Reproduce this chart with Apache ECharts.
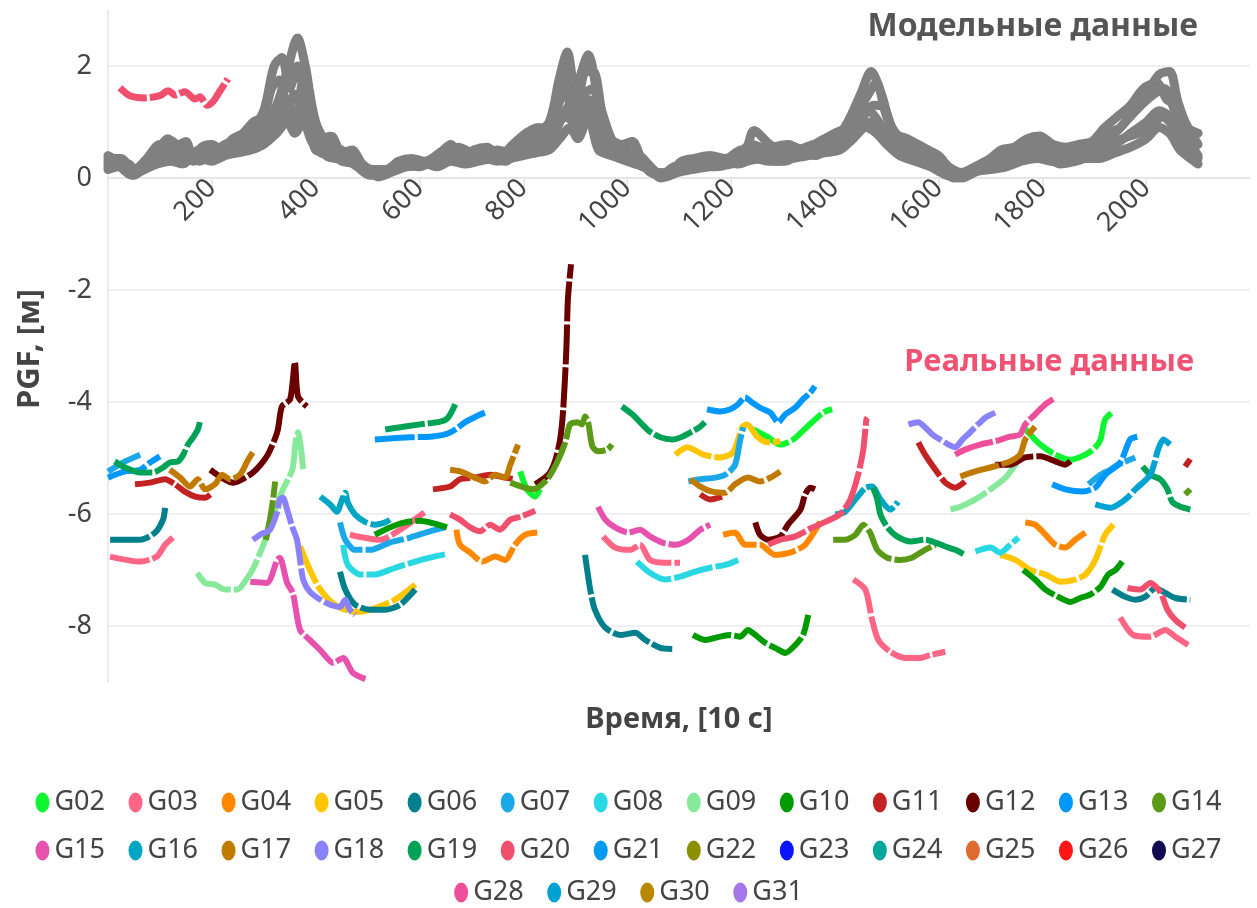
<!DOCTYPE html>
<html><head><meta charset="utf-8">
<script src="https://cdn.jsdelivr.net/npm/echarts@6/dist/echarts.min.js"></script>
<style>html,body{margin:0;padding:0;background:#fff}#c{width:1257px;height:908px}</style>
</head><body><div id="c"></div>
<script>
// ---------- Model data (gray) ----------
const model1 = [[0,0.35],[25,0.35],[50,0.1],[75,0.3],[100,0.5],[125,0.6],[150,0.45],[175,0.4],[200,0.5],[225,0.55],[250,0.65],[275,0.75],[300,0.9],[325,1.3],[345,1.9],[365,2.5],[380,2.0],[400,1.0],[425,0.6],[450,0.5],[475,0.3],[500,0.08],[525,0.1],[550,0.2],[575,0.3],[600,0.25],[625,0.35],[650,0.5],[675,0.45],[700,0.4],[725,0.5],[750,0.45],[775,0.5],[800,0.7],[825,0.8],[850,1.0],[870,1.8],[885,2.25],[900,1.6],[925,2.2],[945,1.4],[975,0.6],[1000,0.5],[1025,0.4],[1050,0.15],[1075,0.02],[1100,0.15],[1125,0.3],[1150,0.3],[1175,0.3],[1200,0.35],[1225,0.4],[1245,0.85],[1275,0.6],[1300,0.5],[1325,0.45],[1350,0.55],[1375,0.65],[1400,0.7],[1425,1.0],[1450,1.5],[1470,1.9],[1490,1.5],[1510,0.9],[1540,0.6],[1575,0.4],[1600,0.3],[1625,0.05],[1650,0.05],[1675,0.15],[1700,0.3],[1725,0.45],[1750,0.5],[1775,0.6],[1800,0.45],[1825,0.4],[1850,0.45],[1875,0.5],[1900,0.6],[1925,0.8],[1950,0.9],[1975,1.2],[2000,1.5],[2025,1.85],[2045,1.9],[2060,1.4],[2075,1.0],[2100,0.6]];
const model2 = [[0,0.25],[25,0.3],[50,0.15],[75,0.35],[100,0.6],[125,0.5],[150,0.35],[175,0.5],[200,0.45],[225,0.6],[250,0.7],[275,0.85],[300,1.2],[320,2.0],[335,2.15],[350,1.6],[365,2.0],[385,1.1],[410,0.6],[435,0.55],[460,0.4],[490,0.15],[520,0.05],[545,0.15],[570,0.25],[600,0.2],[625,0.3],[650,0.4],[675,0.55],[700,0.45],[725,0.4],[750,0.5],[775,0.45],[800,0.6],[825,0.75],[850,0.9],[875,1.5],[890,1.9],[905,1.4],[920,1.9],[935,1.9],[955,1.0],[980,0.55],[1010,0.45],[1040,0.25],[1065,0.05],[1090,0.2],[1120,0.25],[1150,0.35],[1180,0.3],[1210,0.4],[1240,0.6],[1270,0.5],[1300,0.4],[1330,0.5],[1360,0.6],[1390,0.65],[1420,0.85],[1445,1.2],[1465,1.5],[1480,1.7],[1500,1.1],[1525,0.7],[1555,0.5],[1585,0.35],[1610,0.15],[1635,0.02],[1660,0.1],[1690,0.25],[1720,0.35],[1750,0.45],[1780,0.65],[1810,0.55],[1840,0.35],[1870,0.45],[1900,0.5],[1930,0.7],[1960,1.0],[1990,1.3],[2015,1.5],[2035,1.6],[2055,1.2],[2080,0.7],[2100,0.4]];
const model3 = [[0,0.3],[25,0.25],[50,0.05],[75,0.25],[100,0.4],[125,0.45],[150,0.55],[175,0.3],[200,0.4],[225,0.45],[250,0.55],[275,0.6],[300,0.75],[325,1.0],[345,1.4],[360,1.0],[375,1.3],[395,0.8],[420,0.4],[445,0.35],[470,0.35],[495,0.2],[520,0.02],[545,0.1],[570,0.2],[600,0.3],[625,0.25],[650,0.35],[675,0.4],[700,0.35],[725,0.45],[750,0.4],[775,0.45],[800,0.5],[825,0.6],[850,0.7],[870,1.0],[890,1.3],[905,0.9],[925,1.4],[945,0.9],[965,0.5],[990,0.4],[1015,0.35],[1040,0.2],[1065,0.0],[1090,0.1],[1120,0.2],[1150,0.25],[1180,0.25],[1210,0.3],[1240,0.45],[1270,0.4],[1300,0.35],[1330,0.4],[1360,0.5],[1390,0.55],[1420,0.7],[1445,0.9],[1465,1.2],[1485,1.0],[1505,0.7],[1530,0.5],[1560,0.35],[1590,0.25],[1620,0.05],[1645,0.0],[1670,0.1],[1700,0.2],[1730,0.3],[1760,0.4],[1790,0.5],[1820,0.3],[1850,0.35],[1880,0.4],[1910,0.45],[1940,0.6],[1970,0.8],[2000,1.0],[2025,1.2],[2045,1.1],[2065,0.8],[2085,0.5],[2100,0.3]];
const model4 = [[0,0.2],[25,0.3],[50,0.1],[75,0.2],[100,0.3],[125,0.35],[150,0.3],[175,0.35],[200,0.3],[225,0.4],[250,0.45],[275,0.5],[300,0.6],[325,0.8],[345,1.0],[360,0.8],[380,1.1],[400,0.5],[425,0.45],[450,0.3],[475,0.25],[500,0.1],[525,0.05],[550,0.12],[575,0.2],[600,0.22],[625,0.3],[650,0.3],[675,0.35],[700,0.3],[725,0.35],[750,0.3],[775,0.35],[800,0.4],[825,0.45],[850,0.5],[870,0.7],[890,0.9],[905,0.7],[925,1.1],[945,0.5],[970,0.4],[1000,0.3],[1030,0.2],[1055,0.1],[1080,0.05],[1110,0.15],[1140,0.2],[1170,0.2],[1200,0.25],[1230,0.3],[1260,0.35],[1290,0.3],[1320,0.35],[1350,0.4],[1380,0.45],[1410,0.5],[1435,0.7],[1460,0.9],[1480,0.8],[1500,0.6],[1525,0.4],[1555,0.3],[1585,0.2],[1615,0.05],[1640,0.02],[1670,0.12],[1700,0.15],[1730,0.2],[1760,0.3],[1790,0.35],[1820,0.3],[1850,0.3],[1880,0.35],[1910,0.35],[1940,0.45],[1970,0.55],[2000,0.7],[2025,0.9],[2045,0.8],[2065,0.5],[2085,0.35],[2100,0.25]];
const model5 = [[0,0.4],[20,0.3],[40,0.25],[55,0.12],[80,0.35],[100,0.55],[115,0.7],[135,0.6],[150,0.65],[165,0.3],[180,0.55],[200,0.6],[220,0.5],[240,0.7],[260,0.8],[280,1.0],[300,1.1],[315,1.6],[330,1.75],[345,1.2],[360,1.0],[375,1.7],[390,0.9],[410,0.7],[430,0.75],[450,0.45],[470,0.5],[490,0.25],[510,0.15],[535,0.15],[560,0.3],[585,0.35],[610,0.3],[640,0.45],[660,0.6],[680,0.35],[705,0.5],[730,0.55],[755,0.4],[780,0.6],[805,0.8],[830,0.9],[850,0.85],[865,1.3],[880,1.6],[895,1.2],[915,1.5],[935,1.6],[950,0.8],[965,0.7],[990,0.6],[1010,0.65],[1030,0.3],[1055,0.1],[1080,0.1],[1105,0.3],[1130,0.35],[1160,0.4],[1190,0.35],[1220,0.5],[1250,0.45],[1280,0.55],[1310,0.6],[1340,0.5],[1370,0.65],[1400,0.8],[1425,0.9],[1450,1.1],[1475,1.3],[1495,1.25],[1515,0.8],[1540,0.7],[1570,0.55],[1600,0.4],[1620,0.2],[1645,0.1],[1670,0.2],[1700,0.35],[1720,0.5],[1745,0.55],[1770,0.7],[1795,0.75],[1820,0.6],[1845,0.55],[1870,0.6],[1895,0.65],[1920,0.9],[1945,1.1],[1970,1.3],[1995,1.6],[2020,1.7],[2040,1.4],[2060,1.3],[2080,0.9],[2100,0.8]];
const model6 = [[0,0.15],[20,0.2],[45,0.05],[70,0.15],[95,0.25],[120,0.3],[145,0.25],[165,0.45],[185,0.35],[210,0.35],[235,0.45],[260,0.5],[285,0.55],[310,0.7],[330,0.9],[345,1.2],[360,1.5],[372,1.3],[390,0.7],[410,0.45],[430,0.4],[455,0.35],[480,0.2],[505,0.05],[530,0.05],[555,0.2],[580,0.22],[610,0.25],[635,0.2],[660,0.3],[690,0.25],[715,0.3],[740,0.35],[765,0.3],[790,0.45],[815,0.55],[840,0.6],[860,0.8],[880,1.1],[900,1.0],[915,1.2],[930,1.0],[950,0.65],[975,0.45],[1000,0.4],[1025,0.3],[1045,0.1],[1070,0.05],[1095,0.1],[1125,0.15],[1155,0.2],[1185,0.3],[1215,0.25],[1245,0.35],[1275,0.3],[1305,0.3],[1335,0.45],[1365,0.4],[1395,0.6],[1420,0.6],[1445,0.8],[1470,1.0],[1490,0.9],[1515,0.55],[1545,0.45],[1575,0.3],[1605,0.15],[1630,0.0],[1655,0.05],[1685,0.2],[1715,0.25],[1745,0.35],[1775,0.45],[1805,0.4],[1835,0.25],[1865,0.3],[1895,0.4],[1925,0.5],[1955,0.7],[1985,0.8],[2010,0.9],[2030,1.1],[2050,0.95],[2070,0.6],[2090,0.45],[2100,0.35]];
const modelPink = [[23,1.61],[42,1.47],[71,1.43],[100,1.47],[116,1.56],[129,1.48],[148,1.54],[168,1.41],[177,1.45],[191,1.30],[202,1.36],[212,1.50],[231,1.77]];

// ---------- Real data (segments per satellite) ----------
const G02 = [
 [[794,-5.24],[807,-5.56],[823,-5.69],[832,-5.56]],
 [[1243,-4.49],[1270,-4.62],[1295,-4.76],[1320,-4.67],[1347,-4.44],[1378,-4.19],[1395,-4.13]],
 [[1763,-4.44],[1796,-4.76],[1825,-4.94],[1854,-5.03],[1883,-4.94],[1902,-4.81],[1912,-4.67],[1921,-4.31],[1937,-4.17]]
];
const G03 = [
 [[4,-6.76],[62,-6.85],[94,-6.76],[110,-6.55],[125,-6.42]],
 [[466,-6.37],[524,-6.46],[563,-6.28],[611,-5.96]],
 [[954,-6.40],[977,-6.60],[1006,-6.64],[1025,-6.55],[1044,-6.82],[1073,-6.87],[1102,-6.87]],
 [[1436,-7.17],[1459,-7.35],[1472,-7.89],[1484,-8.25],[1507,-8.46],[1536,-8.57],[1565,-8.57],[1584,-8.52],[1613,-8.46]],
 [[1950,-7.85],[1975,-8.16],[2008,-8.19],[2037,-8.07],[2056,-8.19],[2081,-8.34]]
];
const G04 = [
 [[671,-6.28],[678,-6.55],[698,-6.69],[721,-6.85],[746,-6.76],[765,-6.82],[784,-6.55],[804,-6.37],[827,-6.33]],
 [[1185,-6.37],[1208,-6.33],[1227,-6.55],[1256,-6.55],[1285,-6.73],[1314,-6.69],[1343,-6.55],[1372,-6.14]],
 [[1767,-6.15],[1786,-6.19],[1806,-6.37],[1825,-6.55],[1844,-6.60],[1863,-6.46],[1883,-6.33]]
];
const G05 = [
 [[370,-6.58],[389,-7.0],[409,-7.35],[437,-7.62],[476,-7.75],[505,-7.71],[553,-7.53],[592,-7.26]],
 [[1093,-4.94],[1116,-4.81],[1147,-4.94],[1179,-4.99],[1204,-4.90],[1222,-4.45],[1231,-4.40],[1251,-4.62],[1270,-4.72],[1295,-4.70]],
 [[1719,-6.73],[1748,-6.82],[1777,-7.0],[1806,-7.08],[1835,-7.21],[1863,-7.17],[1883,-7.08],[1902,-6.82],[1921,-6.37],[1937,-6.19]]
];
const G06 = [
 [[4,-6.46],[62,-6.46],[91,-6.33],[106,-6.10],[110,-5.89]],
 [[447,-7.03],[457,-7.35],[476,-7.62],[505,-7.71],[534,-7.71],[563,-7.62],[592,-7.35]],
 [[919,-6.73],[929,-7.35],[938,-7.71],[958,-8.03],[987,-8.16],[1016,-8.12],[1035,-8.25],[1064,-8.39],[1087,-8.41]],
 [[1935,-7.35],[1960,-7.48],[1979,-7.53],[1998,-7.48],[2018,-7.32],[2037,-7.41],[2056,-7.50],[2085,-7.53]]
];
const G07 = [
 [[0,-5.24],[33,-5.06],[62,-4.94]],
 [[447,-6.15],[457,-6.46],[476,-6.64],[505,-6.64],[543,-6.51],[582,-6.42],[620,-6.31],[649,-6.24]],
 [[1118,-5.42],[1141,-5.38],[1170,-5.35],[1189,-5.30],[1208,-5.12],[1218,-4.67],[1224,-4.45]],
 [[1889,-5.47],[1912,-5.30],[1931,-5.21],[1946,-5.12],[1979,-4.99]]
];
const G08 = [
 [[453,-6.55],[462,-6.91],[486,-7.08],[514,-7.08],[553,-6.96],[592,-6.85],[620,-6.78],[649,-6.72]],
 [[1019,-6.85],[1044,-7.05],[1073,-7.17],[1102,-7.12],[1131,-7.03],[1160,-6.96],[1189,-6.91],[1214,-6.82]],
 [[1671,-6.67],[1700,-6.60],[1719,-6.69],[1738,-6.55],[1754,-6.42]]
];
const G09 = [
 [[172,-7.05],[187,-7.23],[206,-7.26],[225,-7.35],[249,-7.35],[270,-7.12],[283,-6.91],[303,-6.46],[322,-5.92],[337,-5.56],[355,-5.21],[362,-4.67],[366,-4.54],[372,-4.85],[376,-5.21]],
 [[1623,-5.92],[1642,-5.87],[1671,-5.74],[1700,-5.56],[1729,-5.35],[1748,-5.12],[1757,-5.03]]
];
const G10 = [
 [[514,-6.37],[543,-6.24],[572,-6.15],[601,-6.12],[653,-6.24]],
 [[1127,-8.16],[1150,-8.25],[1179,-8.19],[1199,-8.16],[1218,-8.19],[1233,-8.07],[1247,-8.16],[1266,-8.30],[1285,-8.39],[1305,-8.48],[1324,-8.34],[1339,-8.16],[1349,-7.80]],
 [[1763,-7.0],[1786,-7.17],[1806,-7.35],[1835,-7.50],[1854,-7.57],[1873,-7.50],[1892,-7.44],[1912,-7.30],[1927,-7.08],[1941,-7.0],[1954,-6.85]]
];
const G11 = [
 [[52,-5.47],[81,-5.44],[110,-5.38],[129,-5.47],[148,-5.60],[168,-5.69],[187,-5.71],[197,-5.65]],
 [[626,-5.56],[659,-5.51],[678,-5.38],[707,-5.35],[736,-5.30],[765,-5.35],[784,-5.38]],
 [[1141,-5.65],[1160,-5.74],[1183,-5.69]],
 [[1561,-4.72],[1574,-4.94],[1594,-5.21],[1613,-5.44],[1632,-5.53],[1651,-5.42]],
 [[2075,-5.15],[2085,-5.02]]
];
const G12 = [
 [[197,-5.21],[241,-5.44],[279,-5.26],[306,-4.97],[326,-4.54],[335,-4.08],[351,-3.95],[360,-3.29],[366,-3.90],[383,-4.08]],
 [[823,-5.47],[848,-5.30],[861,-5.06],[871,-4.67],[877,-4.13],[883,-3.06],[886,-2.16],[892,-1.54]],
 [[1247,-6.15],[1256,-6.37],[1272,-6.46],[1295,-6.40],[1310,-6.19],[1334,-5.92],[1343,-5.65],[1353,-5.53],[1362,-5.56]],
 [[1709,-5.12],[1738,-5.12],[1767,-4.99],[1796,-4.97],[1825,-5.06],[1844,-5.12],[1854,-5.06]]
];
const G13 = [
 [[0,-5.35],[33,-5.24],[62,-5.21],[81,-5.08],[100,-4.97]],
 [[514,-4.67],[543,-4.65],[582,-4.63],[620,-4.62],[649,-4.58],[669,-4.49],[688,-4.36],[713,-4.24],[726,-4.19]],
 [[1154,-4.13],[1179,-4.17],[1199,-4.13],[1214,-4.04],[1227,-3.92],[1241,-4.01],[1256,-4.10],[1276,-4.19],[1291,-4.36],[1305,-4.22],[1324,-4.10],[1339,-3.95],[1353,-3.83],[1362,-3.72]],
 [[1819,-5.47],[1844,-5.56],[1877,-5.60],[1902,-5.53],[1921,-5.30],[1950,-5.08],[1969,-4.67],[1983,-4.62]]
];
const G14 = [
 [[304,-6.46],[312,-6.10],[318,-5.74],[322,-5.42]],
 [[775,-5.44],[819,-5.56],[846,-5.38],[865,-5.08],[881,-4.72],[890,-4.40],[904,-4.36],[913,-4.40],[919,-4.26],[925,-4.36],[933,-4.79],[944,-4.88],[962,-4.85],[971,-4.76]],
 [[1397,-6.46],[1420,-6.46],[1440,-6.37],[1455,-6.19],[1468,-6.33],[1482,-6.64],[1501,-6.78],[1526,-6.82],[1549,-6.78],[1574,-6.64],[1594,-6.55]],
 [[2075,-5.65],[2085,-5.56]]
];
const G15 = [
 [[274,-7.21],[306,-7.23],[326,-6.82],[331,-6.78],[345,-7.23],[356,-7.41],[370,-8.07],[389,-8.25],[409,-8.43],[434,-8.66],[453,-8.57],[472,-8.84],[499,-8.96]],
 [[944,-5.87],[958,-6.10],[977,-6.24],[1002,-6.33],[1025,-6.28],[1044,-6.40],[1068,-6.51],[1093,-6.55],[1118,-6.46],[1141,-6.28],[1160,-6.19]]
];
const G16 = [
 [[409,-5.69],[428,-5.83],[441,-5.96],[451,-5.74],[457,-5.62],[462,-5.80],[476,-6.01],[495,-6.14],[514,-6.19],[534,-6.15],[543,-6.10]],
 [[1401,-6.01],[1420,-5.96],[1440,-5.74],[1459,-5.53],[1472,-5.51],[1488,-5.74],[1507,-5.92],[1522,-5.78]]
];
const G17 = [
 [[119,-5.21],[139,-5.35],[158,-5.51],[173,-5.38],[187,-5.56],[206,-5.47],[220,-5.30],[235,-5.38],[254,-5.30],[270,-5.03],[279,-4.90]],
 [[659,-5.21],[678,-5.24],[707,-5.35],[726,-5.42],[746,-5.30],[765,-5.35],[775,-5.12],[790,-4.76]],
 [[1122,-5.38],[1141,-5.51],[1164,-5.60],[1189,-5.62],[1208,-5.47],[1233,-5.35],[1256,-5.42],[1276,-5.35],[1295,-5.24]],
 [[1642,-5.33],[1671,-5.24],[1700,-5.17],[1719,-5.12],[1738,-5.06],[1757,-4.94],[1767,-4.67],[1786,-4.44]]
];
const G18 = [
 [[279,-6.46],[293,-6.37],[312,-6.28],[326,-5.96],[331,-5.74],[337,-5.71],[345,-5.92],[355,-6.23],[364,-6.46],[370,-6.82],[376,-7.17],[389,-7.39],[409,-7.53],[428,-7.62],[447,-7.66],[457,-7.53],[466,-7.71],[476,-7.80]],
 [[1542,-4.40],[1561,-4.36],[1574,-4.45],[1588,-4.58],[1603,-4.67],[1619,-4.76],[1632,-4.81],[1646,-4.67],[1661,-4.54],[1676,-4.40],[1690,-4.28],[1709,-4.19]]
];
const G19 = [
 [[13,-5.06],[33,-5.17],[62,-5.26],[87,-5.26],[106,-5.17],[119,-5.08],[135,-5.06],[145,-4.94],[154,-4.76],[164,-4.63],[173,-4.49],[177,-4.36]],
 [[534,-4.49],[563,-4.45],[601,-4.40],[640,-4.35],[655,-4.28],[669,-4.04]],
 [[990,-4.08],[1010,-4.22],[1025,-4.36],[1044,-4.53],[1064,-4.63],[1087,-4.67],[1106,-4.62],[1125,-4.53],[1141,-4.44],[1150,-4.36]],
 [[1474,-5.53],[1482,-5.74],[1488,-6.01],[1501,-6.23],[1520,-6.40],[1546,-6.49],[1574,-6.46],[1594,-6.51],[1613,-6.58],[1632,-6.64],[1651,-6.73]],
 [[1993,-5.15],[2008,-5.30],[2027,-5.38],[2041,-5.56],[2050,-5.78],[2066,-5.87],[2085,-5.92]]
];
const G20 = [
 [[659,-6.01],[678,-6.10],[698,-6.24],[717,-6.31],[736,-6.19],[755,-6.28],[775,-6.10],[794,-6.05],[823,-5.94]],
 [[1272,-6.55],[1295,-6.46],[1324,-6.40],[1353,-6.26],[1382,-6.14],[1411,-6.0],[1430,-5.74],[1445,-5.30],[1455,-4.85],[1461,-4.31],[1463,-4.28]],
 [[1964,-7.32],[1989,-7.35],[2008,-7.23],[2027,-7.39],[2041,-7.71],[2056,-7.89],[2075,-8.03]]
];
const G21 = [];
const G22 = [];
const G23 = [];
const G24 = [];
const G25 = [];
const G26 = [];
const G27 = [];
const G28 = [
 [[1632,-4.94],[1651,-4.85],[1680,-4.76],[1709,-4.70],[1738,-4.62],[1757,-4.58],[1767,-4.40],[1786,-4.22],[1806,-4.04],[1821,-3.95]]
];
const G29 = [
 [[1902,-5.83],[1931,-5.89],[1960,-5.74],[1979,-5.56],[2008,-5.30],[2023,-4.85],[2033,-4.67],[2046,-4.76]]
];
const G30 = [];
const G31 = [];

const satNames = ['G02','G03','G04','G05','G06','G07','G08','G09','G10','G11','G12','G13','G14','G15','G16','G17','G18','G19','G20','G21','G22','G23','G24','G25','G26','G27','G28','G29','G30','G31'];
const satData = [G02,G03,G04,G05,G06,G07,G08,G09,G10,G11,G12,G13,G14,G15,G16,G17,G18,G19,G20,G21,G22,G23,G24,G25,G26,G27,G28,G29,G30,G31];
const satColors = ['#10f532','#ff6685','#ff8800','#ffc600','#00808c','#1ca8e8','#2ad8e3','#88e99c','#009b00','#c22222','#6b0000','#0097ff','#5b9a17','#e652ad','#00a6c4','#c07a00','#8a82fa','#00a356','#f0506e','#009af0','#8a9000','#0a14ff','#00a69b','#de6a30','#ff1717','#130b52','#ee4f9b','#00a2d4','#b88900','#a577ea'];

const FONT = '"Noto Sans", sans-serif';

function joinSegments(segs){
  const out = [];
  segs.forEach((s, i) => { if (i) out.push(['-','-']); s.forEach(p => out.push(p)); });
  return out;
}

const series = [];
[model1, model2, model3, model4, model5, model6].forEach((m, i) => {
  series.push({
    name: 'model' + (i+1), type: 'line', data: m, symbol: 'none', smooth: 0.3,
    lineStyle: { color: '#808080', width: 9, type: [80, 3], cap: 'round', join: 'round' },
    itemStyle: { color: '#808080' }, silent: true, z: 2
  });
});
series.push({
  name: 'modelPink', type: 'line', data: modelPink, symbol: 'none', smooth: 0.3,
  lineStyle: { color: '#f0506e', width: 7, type: [30, 3] }, itemStyle: { color: '#f0506e' }, silent: true, z: 3
});
satNames.forEach((n, i) => {
  series.push({
    name: n, type: 'line', data: joinSegments(satData[i]), symbol: 'none', smooth: 0.25,
    connectNulls: false,
    lineStyle: { color: satColors[i], width: 6, type: [40, 3] },
    itemStyle: { color: satColors[i] }, z: 4
  });
});

const ellipse = 'path://M6.5,0 A6.5,10 0 1,1 6.5,20 A6.5,10 0 1,1 6.5,0 Z';
const legendBase = {
  icon: ellipse, itemWidth: 14, itemHeight: 20, itemGap: 23.5, left: 'center',
  symbolKeepAspect: false,
  textStyle: { fontSize: 27, color: '#444', fontFamily: FONT },
  selectedMode: false
};

const chart = echarts.init(document.getElementById('c'), null, { renderer: 'canvas' });
chart.setOption({
  animation: false,
  backgroundColor: '#fff',
  textStyle: { fontFamily: FONT },
  grid: { left: 108, right: 7, top: 10, bottom: 226, containLabel: false },
  xAxis: {
    type: 'value', min: 0, max: 2200, interval: 200, position: 'bottom', offset: -504,
    axisLine: { show: true, onZero: false, lineStyle: { color: '#e4e4e4', width: 1.5 } },
    axisTick: { show: true, length: 10, lineStyle: { color: '#e4e4e4', width: 1.5 } },
    axisLabel: { rotate: 45, fontSize: 27, color: '#444', margin: 6, showMinLabel: false, showMaxLabel: false, fontFamily: FONT,
      formatter: v => String(v) },
    splitLine: { show: false }
  },
  yAxis: {
    type: 'value', min: -9, max: 3, interval: 1,
    axisLine: { show: true, lineStyle: { color: '#e4e4e4', width: 1.5 } },
    axisTick: { show: false },
    axisLabel: { fontSize: 27, color: '#444', margin: 16, fontFamily: FONT,
      formatter: v => (v % 2 === 0 && v > -9 && v < 3) ? String(v) : '' },
    splitLine: { show: true, showMinLine: true, showMaxLine: true, lineStyle: { color: ['rgba(0,0,0,0)', '#ebebeb'], width: 1.5 } }
  },
  legend: [
    Object.assign({}, legendBase, { data: satNames.slice(0, 13), top: 784 }),
    Object.assign({}, legendBase, { data: satNames.slice(13, 26), top: 832 }),
    Object.assign({}, legendBase, { data: satNames.slice(26), top: 874 })
  ],
  graphic: [
    { type: 'text', x: 1198, y: 27, style: { text: 'Модельные данные', font: 'bold 32px "Noto Sans"', fill: '#555', align: 'right', verticalAlign: 'middle' } },
    { type: 'text', x: 1194, y: 362, style: { text: 'Реальные данные', font: 'bold 31px "Noto Sans"', fill: '#ef5272', align: 'right', verticalAlign: 'middle' } },
    { type: 'text', x: 679, y: 720, style: { text: 'Время, [10 с]', font: 'bold 29px "Noto Sans"', fill: '#444', align: 'center', verticalAlign: 'middle' } },
    { type: 'text', x: 30, y: 349, rotation: Math.PI / 2, style: { text: 'PGF, [м]', font: 'bold 31px "Noto Sans"', fill: '#444', align: 'center', verticalAlign: 'middle' } }
  ],
  series: series
});
</script>
</body></html>
